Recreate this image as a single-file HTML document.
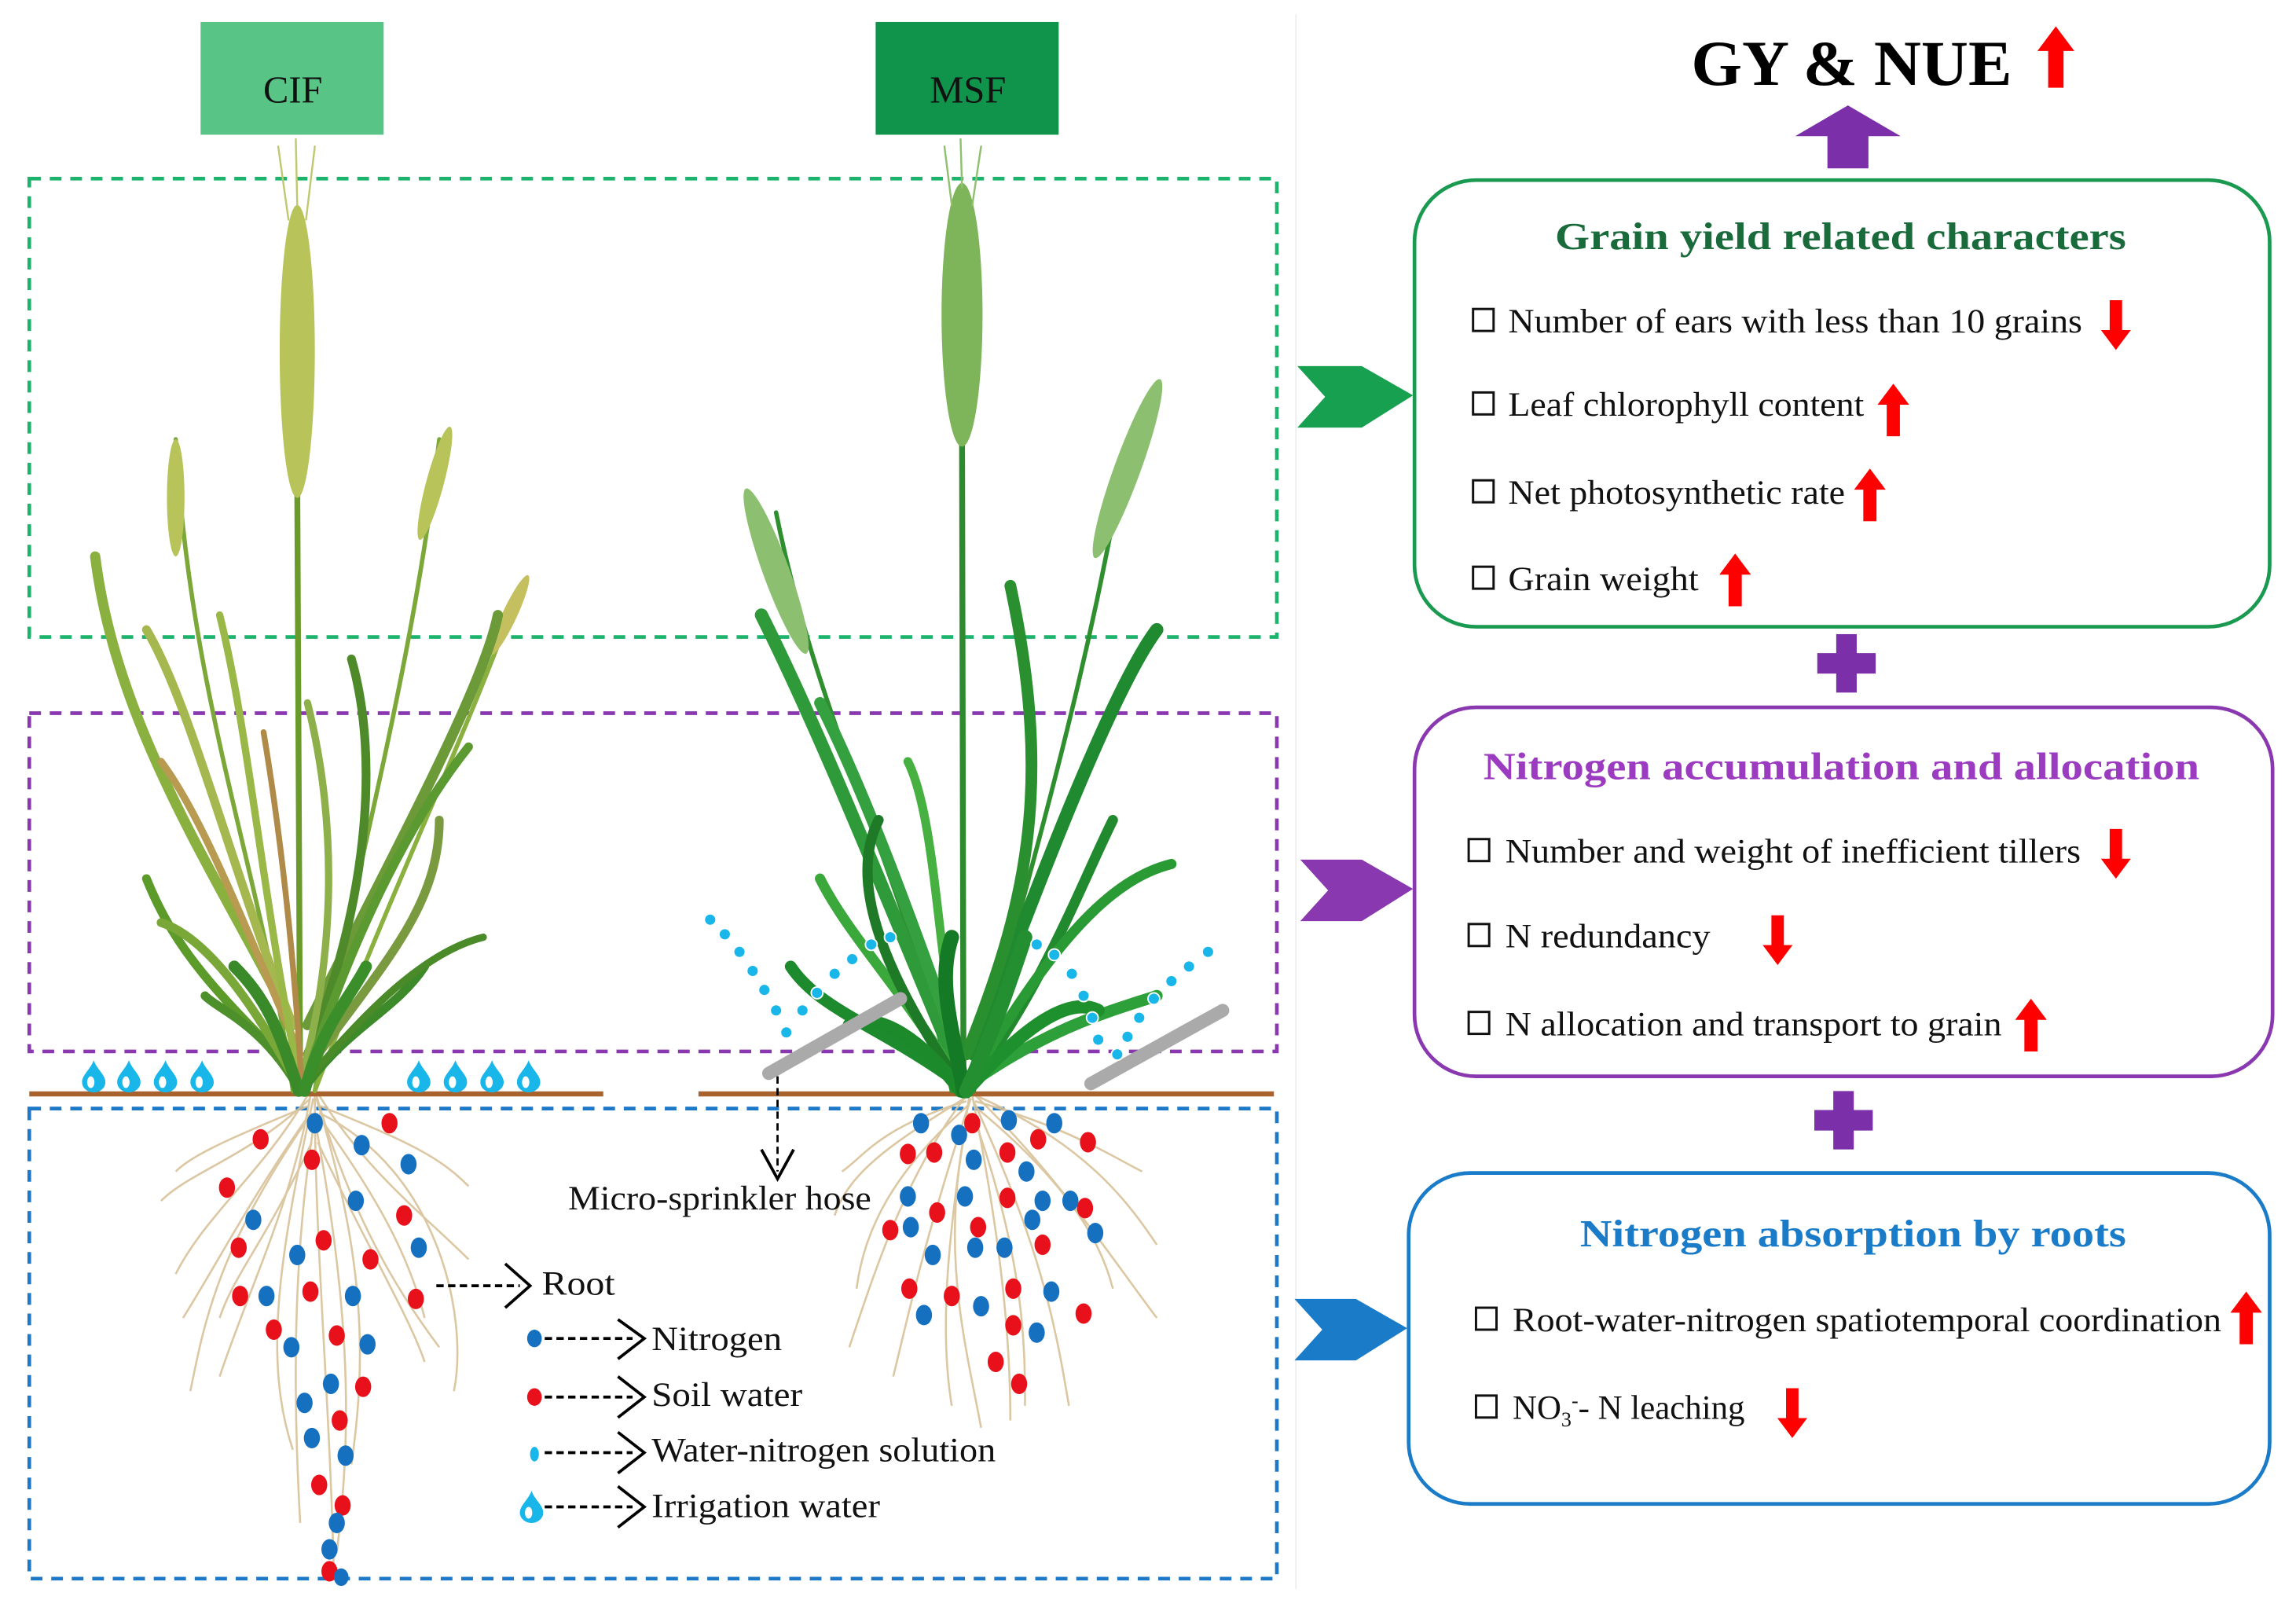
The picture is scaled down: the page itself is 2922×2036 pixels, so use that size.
<!DOCTYPE html>
<html><head><meta charset="utf-8"><style>
html,body{margin:0;padding:0;background:#fff;}
svg{display:block;}
text{font-family:"Liberation Serif",serif;}
</style></head><body>
<svg width="2922" height="2036" viewBox="0 0 1568 1092.6" preserveAspectRatio="none" xmlns="http://www.w3.org/2000/svg">
<defs>
<symbol id="up" viewBox="0 0 24 40"><path d="M12 0 L24 16 L17 16 L17 40 L7 40 L7 16 L0 16 Z" fill="#f00"/></symbol>
<symbol id="dn" viewBox="0 0 24 40"><path d="M12 40 L24 24 L17 24 L17 0 L7 0 L7 24 L0 24 Z" fill="#f00"/></symbol>
<symbol id="plus" viewBox="0 0 40 40"><path d="M13 0h14v13h13v14h-13v13h-14v-13h-13v-14h13z" fill="#7b2fa8"/></symbol>
<symbol id="drop" viewBox="0 0 16 22"><path d="M8 0 C10 6 16 10 16 15 A8 7 0 0 1 0 15 C0 10 6 6 8 0Z" fill="#19b6ea"/><ellipse cx="6" cy="15" rx="2.5" ry="4" fill="#fff"/></symbol>
</defs>
<rect width="1568" height="1093" fill="#fff"/>
<line x1="885" y1="10" x2="885" y2="1085" stroke="#eee" stroke-width="1"/>
<rect x="137" y="15" width="125" height="77" fill="#58c587"/>
<text x="200" y="70" font-size="26" text-anchor="middle" fill="#111">CIF</text>
<rect x="598" y="15" width="125" height="77" fill="#10934a"/>
<text x="661" y="70" font-size="26" text-anchor="middle" fill="#111">MSF</text>
<rect x="20" y="122" width="852" height="313" fill="none" stroke="#1cb36c" stroke-width="2.5" stroke-dasharray="8,6"/>
<rect x="20" y="487" width="852" height="231" fill="none" stroke="#8a38b0" stroke-width="2.5" stroke-dasharray="8,6"/>
<rect x="20" y="757" width="852" height="321" fill="none" stroke="#1e78c8" stroke-width="2.5" stroke-dasharray="8,6"/>
<!-- roots -->
<g stroke="#d9c29a" stroke-width="1.4" fill="none" opacity="0.9">
<path d="M210 748 C180 800 140 830 120 870"/><path d="M212 748 C200 820 170 880 150 940"/><path d="M215 748 C215 850 225 950 228 1075"/><path d="M218 748 C250 800 290 830 320 860"/><path d="M216 748 C240 830 270 880 300 920"/><path d="M212 750 C170 790 130 800 110 820"/><path d="M214 750 C190 860 180 930 200 990"/><path d="M216 750 C250 860 250 930 240 1000"/><path d="M213 760 C150 850 140 900 130 950"/><path d="M218 760 C300 800 320 900 310 950"/>
<path d="M212 760 C170 820 150 860 125 900"/><path d="M216 760 C260 820 280 860 290 900"/><path d="M214 770 C200 860 200 950 205 1040"/><path d="M216 770 C240 900 240 980 230 1060"/><path d="M211 755 C150 780 130 790 120 800"/><path d="M218 755 C280 780 300 790 320 810"/><path d="M213 780 C180 850 160 870 150 900"/><path d="M217 780 C250 850 280 900 290 930"/>
<path d="M660 748 C620 800 600 860 580 920"/><path d="M662 748 C650 830 640 900 650 960"/><path d="M664 748 C680 830 690 900 690 970"/><path d="M666 748 C720 800 760 860 790 900"/><path d="M662 748 C610 780 580 800 570 830"/><path d="M666 748 C740 780 770 820 790 850"/><path d="M663 750 C630 850 620 900 610 940"/><path d="M664 750 C710 850 720 900 730 960"/>
<path d="M661 755 C610 800 590 840 585 880"/><path d="M665 755 C720 800 750 840 760 880"/><path d="M662 760 C640 850 660 920 670 975"/><path d="M664 760 C700 860 700 920 700 960"/><path d="M660 752 C600 770 590 790 575 800"/><path d="M666 752 C730 770 760 790 780 800"/>
</g>
<line x1="20" y1="747" x2="412" y2="747" stroke="#a8622e" stroke-width="3.5"/>
<line x1="477" y1="747" x2="870" y2="747" stroke="#a8622e" stroke-width="3.5"/>
<!-- CIF plant -->
<g fill="none" stroke-linecap="round">
<path d="M205 745 L203 330" stroke="#6a9a2a" stroke-width="4"/>
<ellipse cx="203" cy="240" rx="12" ry="100" fill="#b8c45a"/>
<path d="M197 150 L190 100 M203 140 L202 95 M209 150 L215 100" stroke="#c0c870" stroke-width="1.3"/>
<path d="M200 745 C180 600 130 480 120 300" stroke="#7ca83a" stroke-width="3"/>
<ellipse cx="120" cy="340" rx="6" ry="40" fill="#b8c45a"/>
<path d="M215 745 C240 600 280 470 300 300" stroke="#7ca83a" stroke-width="3"/>
<ellipse cx="297" cy="330" rx="6" ry="40" fill="#b8c45a" transform="rotate(15 297 330)"/>
<path d="M215 745 C270 600 320 500 355 400" stroke="#8ab040" stroke-width="3"/>
<ellipse cx="348" cy="420" rx="5" ry="30" fill="#c4c060" transform="rotate(25 348 420)"/>
<path d="M200 700 C150 600 80 500 65 380" stroke="#8ab040" stroke-width="7"/>
<path d="M210 700 C270 580 330 470 340 420" stroke="#6c9a38" stroke-width="7"/>
<path d="M200 700 C160 600 130 480 100 430" stroke="#a5b850" stroke-width="6"/>
<path d="M210 720 C250 620 260 520 240 450" stroke="#4e8a2a" stroke-width="6"/>
<path d="M205 720 C170 640 140 560 110 520" stroke="#b89a50" stroke-width="5"/>
<path d="M210 730 C260 660 300 620 300 560" stroke="#7a9a40" stroke-width="6"/>
<path d="M200 730 C150 680 120 650 100 600" stroke="#5c9a2a" stroke-width="6"/>
<path d="M210 740 C240 700 270 690 290 660" stroke="#3c8a2a" stroke-width="6"/>
<path d="M205 745 C180 700 150 690 140 680" stroke="#4d8f2b" stroke-width="6"/>
<path d="M205 740 C230 650 230 560 210 480" stroke="#8db04a" stroke-width="5"/>
<path d="M205 740 C180 620 170 500 150 420" stroke="#9ab848" stroke-width="5"/>
<path d="M208 740 C240 640 280 560 320 510" stroke="#5a9a30" stroke-width="6"/>
<path d="M203 740 C170 680 140 640 110 630" stroke="#7aa838" stroke-width="6"/>
<path d="M206 740 C200 640 190 560 180 500" stroke="#b08a48" stroke-width="4"/>
<path d="M208 740 C250 690 290 650 330 640" stroke="#4a8a28" stroke-width="5"/>
<path d="M204 745 C190 700 180 680 160 660" stroke="#3a8a2a" stroke-width="8"/>
<path d="M208 745 C220 700 240 680 250 660" stroke="#3a8f2a" stroke-width="8"/>
</g>
<!-- MSF plant -->
<g fill="none" stroke-linecap="round">
<path d="M658 745 L657 300" stroke="#2e8a2e" stroke-width="4"/>
<ellipse cx="657" cy="215" rx="14" ry="90" fill="#7fb55a"/>
<path d="M650 140 L645 100 M657 128 L656 95 M664 140 L670 100" stroke="#8fc070" stroke-width="1.3"/>
<path d="M650 745 C620 600 560 500 530 350" stroke="#2f8f2f" stroke-width="3"/>
<ellipse cx="530" cy="390" rx="9" ry="60" fill="#8cc070" transform="rotate(-20 530 390)"/>
<path d="M665 745 C700 600 740 480 770 300" stroke="#2f8f2f" stroke-width="3"/>
<ellipse cx="770" cy="320" rx="9" ry="65" fill="#8cc070" transform="rotate(20 770 320)"/>
<path d="M650 720 C600 600 560 500 520 420" stroke="#2e9a3a" stroke-width="9"/>
<path d="M665 720 C710 600 760 470 790 430" stroke="#1f8a2f" stroke-width="9"/>
<path d="M655 720 C620 620 590 540 560 480" stroke="#35a040" stroke-width="8"/>
<path d="M660 720 C700 620 720 540 690 400" stroke="#2a8f2f" stroke-width="8"/>
<path d="M655 740 C600 700 560 690 540 660" stroke="#1e8a2e" stroke-width="8"/>
<path d="M662 740 C720 700 760 690 790 680" stroke="#2ea03a" stroke-width="8"/>
<path d="M655 740 C620 680 580 640 560 600" stroke="#3aa83a" stroke-width="7"/>
<path d="M662 740 C710 680 740 600 760 560" stroke="#228a2e" stroke-width="7"/>
<path d="M658 740 C640 660 640 560 620 520" stroke="#46b040" stroke-width="6"/>
<path d="M655 740 C600 660 580 600 600 560" stroke="#1f7a28" stroke-width="7"/>
<path d="M662 740 C720 640 760 600 800 590" stroke="#2a9a35" stroke-width="7"/>
<path d="M656 745 C630 710 600 690 580 700" stroke="#1c8a2a" stroke-width="9"/>
<path d="M660 745 C700 700 730 680 750 690" stroke="#1e902e" stroke-width="9"/>
<path d="M658 745 C650 700 640 670 650 640" stroke="#157a25" stroke-width="10"/>
<path d="M660 745 C680 700 690 670 700 640" stroke="#238f30" stroke-width="10"/>
</g>
<path d="M525 733 L615 682" stroke="#aaa" stroke-width="9" stroke-linecap="round"/>
<path d="M745 740 L835 690" stroke="#aaa" stroke-width="9" stroke-linecap="round"/>
<g fill="#19b6ea" stroke="#fff" stroke-width="1">
<circle cx="485" cy="628" r="4"/><circle cx="495" cy="638" r="4"/><circle cx="505" cy="650" r="4"/><circle cx="514" cy="663" r="4"/><circle cx="522" cy="676" r="4"/><circle cx="530" cy="690" r="4"/><circle cx="537" cy="705" r="4"/>
<circle cx="608" cy="640" r="4"/><circle cx="595" cy="645" r="4"/><circle cx="582" cy="655" r="4"/><circle cx="570" cy="665" r="4"/><circle cx="558" cy="678" r="4"/><circle cx="548" cy="690" r="4"/>
<circle cx="708" cy="645" r="4"/><circle cx="720" cy="652" r="4"/><circle cx="732" cy="665" r="4"/><circle cx="740" cy="680" r="4"/><circle cx="746" cy="695" r="4"/><circle cx="750" cy="710" r="4"/>
<circle cx="825" cy="650" r="4"/><circle cx="812" cy="660" r="4"/><circle cx="800" cy="670" r="4"/><circle cx="788" cy="682" r="4"/><circle cx="778" cy="695" r="4"/><circle cx="770" cy="708" r="4"/><circle cx="763" cy="720" r="4"/>
</g>
<use href="#drop" x="56" y="724" width="16" height="22"/><use href="#drop" x="80" y="724" width="16" height="22"/><use href="#drop" x="105" y="724" width="16" height="22"/><use href="#drop" x="130" y="724" width="16" height="22"/>
<use href="#drop" x="278" y="724" width="16" height="22"/><use href="#drop" x="303" y="724" width="16" height="22"/><use href="#drop" x="328" y="724" width="16" height="22"/><use href="#drop" x="353" y="724" width="16" height="22"/>
<g fill="#e8101a">
<ellipse cx="178" cy="778" rx="5.5" ry="7"/><ellipse cx="266" cy="767" rx="5.5" ry="7"/><ellipse cx="155" cy="811" rx="5.5" ry="7"/><ellipse cx="213" cy="792" rx="5.5" ry="7"/><ellipse cx="276" cy="830" rx="5.5" ry="7"/><ellipse cx="163" cy="852" rx="5.5" ry="7"/><ellipse cx="221" cy="847" rx="5.5" ry="7"/><ellipse cx="253" cy="860" rx="5.5" ry="7"/><ellipse cx="164" cy="885" rx="5.5" ry="7"/><ellipse cx="212" cy="882" rx="5.5" ry="7"/><ellipse cx="284" cy="887" rx="5.5" ry="7"/><ellipse cx="187" cy="908" rx="5.5" ry="7"/><ellipse cx="230" cy="912" rx="5.5" ry="7"/><ellipse cx="248" cy="947" rx="5.5" ry="7"/><ellipse cx="232" cy="970" rx="5.5" ry="7"/><ellipse cx="218" cy="1014" rx="5.5" ry="7"/><ellipse cx="234" cy="1028" rx="5.5" ry="7"/><ellipse cx="225" cy="1073" rx="5.5" ry="7"/>
<ellipse cx="664" cy="767" rx="5.5" ry="7"/><ellipse cx="620" cy="788" rx="5.5" ry="7"/><ellipse cx="638" cy="787" rx="5.5" ry="7"/><ellipse cx="688" cy="787" rx="5.5" ry="7"/><ellipse cx="709" cy="778" rx="5.5" ry="7"/><ellipse cx="743" cy="780" rx="5.5" ry="7"/><ellipse cx="688" cy="818" rx="5.5" ry="7"/><ellipse cx="640" cy="828" rx="5.5" ry="7"/><ellipse cx="608" cy="840" rx="5.5" ry="7"/><ellipse cx="668" cy="838" rx="5.5" ry="7"/><ellipse cx="741" cy="825" rx="5.5" ry="7"/><ellipse cx="712" cy="850" rx="5.5" ry="7"/><ellipse cx="621" cy="880" rx="5.5" ry="7"/><ellipse cx="650" cy="885" rx="5.5" ry="7"/><ellipse cx="692" cy="880" rx="5.5" ry="7"/><ellipse cx="740" cy="897" rx="5.5" ry="7"/><ellipse cx="692" cy="905" rx="5.5" ry="7"/><ellipse cx="680" cy="930" rx="5.5" ry="7"/><ellipse cx="696" cy="945" rx="5.5" ry="7"/>
<ellipse cx="365" cy="954" rx="5" ry="6"/>
</g>
<g fill="#1670c0">
<ellipse cx="215" cy="767" rx="5.5" ry="7"/><ellipse cx="247" cy="782" rx="5.5" ry="7"/><ellipse cx="279" cy="795" rx="5.5" ry="7"/><ellipse cx="173" cy="833" rx="5.5" ry="7"/><ellipse cx="243" cy="820" rx="5.5" ry="7"/><ellipse cx="203" cy="857" rx="5.5" ry="7"/><ellipse cx="286" cy="852" rx="5.5" ry="7"/><ellipse cx="182" cy="885" rx="5.5" ry="7"/><ellipse cx="241" cy="885" rx="5.5" ry="7"/><ellipse cx="199" cy="920" rx="5.5" ry="7"/><ellipse cx="251" cy="918" rx="5.5" ry="7"/><ellipse cx="226" cy="945" rx="5.5" ry="7"/><ellipse cx="208" cy="958" rx="5.5" ry="7"/><ellipse cx="213" cy="982" rx="5.5" ry="7"/><ellipse cx="236" cy="994" rx="5.5" ry="7"/><ellipse cx="230" cy="1040" rx="5.5" ry="7"/><ellipse cx="225" cy="1058" rx="5.5" ry="7"/><ellipse cx="233" cy="1077" rx="5" ry="6"/>
<ellipse cx="629" cy="767" rx="5.5" ry="7"/><ellipse cx="689" cy="765" rx="5.5" ry="7"/><ellipse cx="720" cy="767" rx="5.5" ry="7"/><ellipse cx="655" cy="775" rx="5.5" ry="7"/><ellipse cx="665" cy="792" rx="5.5" ry="7"/><ellipse cx="701" cy="800" rx="5.5" ry="7"/><ellipse cx="620" cy="817" rx="5.5" ry="7"/><ellipse cx="659" cy="817" rx="5.5" ry="7"/><ellipse cx="712" cy="820" rx="5.5" ry="7"/><ellipse cx="731" cy="820" rx="5.5" ry="7"/><ellipse cx="622" cy="838" rx="5.5" ry="7"/><ellipse cx="705" cy="833" rx="5.5" ry="7"/><ellipse cx="748" cy="842" rx="5.5" ry="7"/><ellipse cx="637" cy="857" rx="5.5" ry="7"/><ellipse cx="666" cy="852" rx="5.5" ry="7"/><ellipse cx="686" cy="852" rx="5.5" ry="7"/><ellipse cx="670" cy="892" rx="5.5" ry="7"/><ellipse cx="718" cy="882" rx="5.5" ry="7"/><ellipse cx="631" cy="898" rx="5.5" ry="7"/><ellipse cx="708" cy="910" rx="5.5" ry="7"/>
<ellipse cx="365" cy="914" rx="5" ry="6"/>
</g>
<g stroke="#000" stroke-width="2" fill="none">
<path d="M298 878 H355" stroke-dasharray="5,3"/><path d="M345 863 L362 878 L345 893"/>
<path d="M372 914 H432" stroke-dasharray="5,3"/><path d="M422 901 L440 914 L422 928"/>
<path d="M372 954 H432" stroke-dasharray="5,3"/><path d="M422 940 L440 954 L422 968"/>
<path d="M372 992 H432" stroke-dasharray="5,3"/><path d="M422 978 L440 992 L422 1006"/>
<path d="M372 1029 H432" stroke-dasharray="5,3"/><path d="M422 1015 L440 1029 L422 1043"/>
<path d="M531 735 V800" stroke-dasharray="5,3" stroke-width="1.5"/><path d="M520 785 L531 805 L542 785"/>
</g>
<ellipse cx="365" cy="993" rx="3" ry="5" fill="#19b6ea"/>
<use href="#drop" x="355" y="1018" width="16" height="22"/>
<g font-size="23" fill="#111">
<text x="388" y="826" textLength="207" lengthAdjust="spacingAndGlyphs">Micro-sprinkler hose</text>
<text x="370" y="884" textLength="50" lengthAdjust="spacingAndGlyphs">Root</text>
<text x="445" y="922" textLength="89" lengthAdjust="spacingAndGlyphs">Nitrogen</text>
<text x="445" y="960" textLength="103" lengthAdjust="spacingAndGlyphs">Soil water</text>
<text x="445" y="998" textLength="235" lengthAdjust="spacingAndGlyphs">Water-nitrogen solution</text>
<text x="445" y="1036" textLength="156" lengthAdjust="spacingAndGlyphs">Irrigation water</text>
</g>
<text x="1155" y="58" font-size="44" font-weight="bold" fill="#000" textLength="219" lengthAdjust="spacingAndGlyphs">GY &amp; NUE</text>
<use href="#up" x="1386" y="18" width="36" height="42"/>
<path d="M1262 72 L1298 93 L1276 93 L1276 115 L1248 115 L1248 93 L1226 93 Z" fill="#7b2fa8"/>
<rect x="966" y="123" width="584" height="305" rx="42" fill="none" stroke="#1a9a50" stroke-width="2.5"/>
<rect x="966" y="483" width="586" height="252" rx="42" fill="none" stroke="#8a38b0" stroke-width="2.5"/>
<rect x="962" y="801" width="588" height="226" rx="42" fill="none" stroke="#1a7cc8" stroke-width="2.5"/>
<use href="#plus" x="1241" y="433" width="40" height="40"/>
<use href="#plus" x="1239" y="745" width="40" height="40"/>
<path d="M886 250 L930 250 L965 270 L930 292 L886 292 L905 271 Z" fill="#17a04f"/>
<path d="M888 587 L930 587 L965 607 L930 629 L888 629 L907 608 Z" fill="#8a38b0"/>
<path d="M884 887 L926 887 L961 907 L926 929 L884 929 L903 908 Z" fill="#1a7cc8"/>
<g font-size="26" font-weight="bold">
<text x="1062" y="170" fill="#196b3b" textLength="390" lengthAdjust="spacingAndGlyphs">Grain yield related characters</text>
<text x="1013" y="532" fill="#9b3bbf" textLength="489" lengthAdjust="spacingAndGlyphs">Nitrogen accumulation and allocation</text>
<text x="1079" y="851" fill="#1a7cc8" textLength="373" lengthAdjust="spacingAndGlyphs">Nitrogen absorption by roots</text>
</g>
<g fill="none" stroke="#111" stroke-width="1.6">
<rect x="1006" y="211" width="14" height="15"/><rect x="1006" y="268" width="14" height="15"/><rect x="1006" y="328" width="14" height="15"/><rect x="1006" y="387" width="14" height="15"/>
<rect x="1003" y="573" width="14" height="15"/><rect x="1003" y="631" width="14" height="15"/><rect x="1003" y="691" width="14" height="15"/>
<rect x="1008" y="893" width="14" height="15"/><rect x="1008" y="953" width="14" height="15"/>
</g>
<g font-size="23" fill="#111">
<text x="1030" y="227" textLength="392" lengthAdjust="spacingAndGlyphs">Number of ears with less than 10 grains</text>
<text x="1030" y="284" textLength="243" lengthAdjust="spacingAndGlyphs">Leaf chlorophyll content</text>
<text x="1030" y="344" textLength="230" lengthAdjust="spacingAndGlyphs">Net photosynthetic rate</text>
<text x="1030" y="403" textLength="130" lengthAdjust="spacingAndGlyphs">Grain weight</text>
<text x="1028" y="589" textLength="393" lengthAdjust="spacingAndGlyphs">Number and weight of inefficient tillers</text>
<text x="1028" y="647" textLength="140" lengthAdjust="spacingAndGlyphs">N redundancy</text>
<text x="1028" y="707" textLength="339" lengthAdjust="spacingAndGlyphs">N allocation and transport to grain</text>
<text x="1033" y="909" textLength="484" lengthAdjust="spacingAndGlyphs">Root-water-nitrogen spatiotemporal coordination</text>
<text x="1033" y="969">NO<tspan font-size="14" dy="5">3</tspan><tspan font-size="14" dy="-13">-</tspan><tspan dy="8">- N leaching</tspan></text>
</g>
<use href="#dn" x="1432" y="205" width="26" height="34"/>
<use href="#up" x="1278" y="262" width="30" height="36"/>
<use href="#up" x="1262" y="320" width="30" height="36"/>
<use href="#up" x="1170" y="378" width="30" height="36"/>
<use href="#dn" x="1432" y="566" width="26" height="34"/>
<use href="#dn" x="1200" y="625" width="28" height="34"/>
<use href="#up" x="1372" y="682" width="30" height="36"/>
<use href="#up" x="1518" y="882" width="32" height="36"/>
<use href="#dn" x="1210" y="948" width="28" height="34"/>
</svg>
</body></html>
